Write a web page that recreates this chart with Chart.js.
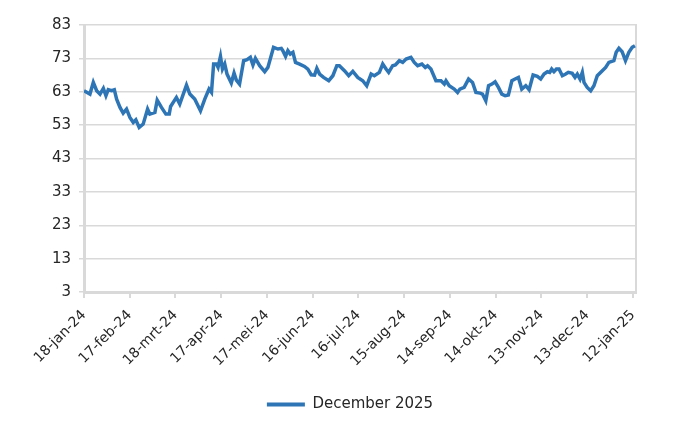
<!DOCTYPE html>
<html>
<head>
<meta charset="utf-8">
<script src="https://cdn.jsdelivr.net/npm/chart.js@4/dist/chart.umd.min.js"></script>
<style>
  html, body { margin: 0; padding: 0; background: #fff; }
  #wrap { width: 700px; height: 430px; }
</style>
</head>
<body>
<div id="wrap"><canvas id="chart"></canvas></div>
<script>
// days since 18-jan-24
const days = [
  0, 3.9, 6.1, 8.3, 10.5, 12.7, 14.4, 15.9, 18.1, 19.9, 21.4, 23.6, 25.7, 27.9, 30.1, 32.3, 34, 36.2, 38.8,
  41.7, 43.2, 46.5, 48, 50.8, 53.7, 55.9, 56.8, 60.6, 62.8, 67.2, 69.4, 72.6, 76.4, 79.2, 82, 83.6, 85,
  86.8, 87.9, 89.5, 90.8, 92.3, 93.8, 96.6, 98.4, 99.9, 102, 104.7, 106.9, 109.1, 110.8, 112.4, 115.2,
  118.5, 120.6, 124.3, 127.2, 129.4, 130.4, 132.2, 133.7, 135.3, 137, 138.7, 141.4, 144.6, 146.8, 149,
  151.2, 152.7, 154.5, 157.1, 160.5, 163.2, 165.8, 167.5, 170.8, 173.6, 176.3, 179.5, 182.8, 185.4,
  188.3, 190.4, 193.7, 195.9, 198.1, 199.8, 202.4, 204.2, 206.8, 209, 211.2, 214.4, 216.6, 218.8, 221.6,
  223.8, 225.3, 227.5, 230.8, 234.1, 236.3, 237.4, 239.5, 242.8, 245, 246.5, 249.3, 252.2, 254.8, 257,
  259.8, 261.3, 263.5, 265.3, 267.5, 269.6, 271.8, 274, 276.2, 278.3, 280.6, 282.7, 284.9, 287.1, 289.7,
  291.9, 294.5, 297.3, 299.5, 301.7, 303.9, 305.4, 306.7, 308.2, 309.8, 311.5, 313.7, 315.9, 317.6,
  320.2, 322, 323.5, 325.3, 326.8, 327.9, 330, 332.3, 334.4, 336.6, 339.9, 342.1, 344.2, 347.5, 349,
  350.8, 352.9, 355.1, 357.3, 359.5, 361.3
];
const values = [
  63.3, 62.3, 65.8, 63.3, 62.3, 64, 61.8, 63.6, 63.3, 63.6, 60.8, 58.3, 56.6, 57.8, 55.3, 53.8, 54.6, 52.3, 53.3,
  57.8, 56.3, 56.8, 60.5, 58.3, 56.3, 56.3, 58.6, 61.3, 59.3, 65, 62.3, 60.8, 57.3, 60.8, 63.8, 62.8, 71.3,
  71.3, 70.3, 73.6, 69.8, 71.3, 68.3, 65.6, 68.6, 66.5, 65.3, 72.3, 72.6, 73.3, 71, 73, 70.8,
  69, 70.3, 76.3, 75.8, 76, 75.3, 73.6, 75.3, 74.3, 74.8, 71.8, 71.3, 70.6, 69.8, 68.1,
  68, 70, 68.3, 67.3, 66.3, 67.8, 70.8, 70.8, 69.3, 67.8, 69.1, 67.3, 66.3, 64.8,
  68.3, 67.8, 68.8, 71.3, 69.8, 68.8, 70.8, 71, 72.3, 71.8, 72.8, 73.3, 71.8, 70.8, 71.3,
  70.3, 70.8, 69.8, 66.3, 66.3, 65.3, 66.3, 64.8, 63.8, 62.8, 63.8, 64.3, 66.8, 65.8, 62.8,
  62.6, 62.3, 60.3, 64.8, 65.3, 66, 64.3, 62.3, 61.8, 62, 66.3, 66.8, 67.3, 63.8, 64.8,
  63.6, 68, 67.6, 66.8, 68.3, 69, 68.8, 69.8, 69, 69.8, 69.8, 67.8, 68.3, 68.8,
  68.5, 67.3, 68.3, 66.8, 68.8, 65.8, 64.3, 63.3, 64.8, 67.8, 69.3, 70.3, 71.8, 72.3, 74.8,
  76, 75, 72.3, 74.8, 76.3, 76.8
];
const tickDays = [0, 30, 60, 90, 120, 150, 180, 210, 240, 270, 300, 330, 360];
const tickLabels = [
  "18-jan-24", "17-feb-24", "18-mrt-24", "17-apr-24", "17-mei-24", "16-jun-24", "16-jul-24",
  "15-aug-24", "14-sep-24", "14-okt-24", "13-nov-24", "13-dec-24", "12-jan-25"
];
const seriesName = "December 2025";

const blue = "#2e75b6";
const gridGrey = "#d9d9d9";
const textColor = "#262626";
const font = { family: "'DejaVu Sans', sans-serif", size: 15 };
const smallFont = { family: "'DejaVu Sans', sans-serif", size: 14 };

const ctx = document.getElementById("chart");
new Chart(ctx, {
  type: "line",
  data: {
    datasets: [
      {
        label: seriesName,
        data: days.map((d, i) => ({ x: d, y: values[i] })),
        borderColor: blue,
        backgroundColor: blue,
        borderWidth: 3.5,
        pointRadius: 0,
        tension: 0,
        yAxisID: "y",
      },
    ],
  },
  options: {
    responsive: true,
    maintainAspectRatio: false,
    animation: false,
    layout: { padding: { left: 0, right: 0, top: 25, bottom: 8 } },
    plugins: {
      tooltip: { enabled: false },
      legend: {
        position: "bottom",
        labels: {
          font: font,
          color: textColor,
          boxWidth: 38,
          boxHeight: 4,
          padding: 10,
          generateLabels: (chart) =>
            chart.data.datasets.map((ds, i) => ({
              text: ds.label,
              fillStyle: ds.borderColor,
              strokeStyle: ds.borderColor,
              lineWidth: 0,
              fontColor: textColor,
              datasetIndex: i,
            })),
        },
      },
    },
    scales: {
      x: {
        type: "linear",
        min: 0,
        max: 362,
        afterBuildTicks: (scale) => {
          scale.ticks = tickDays.map((v) => ({ value: v }));
        },
        afterFit: (scale) => {
          scale.height = 95;
        },
        ticks: {
          autoSkip: false,
          maxRotation: 45,
          minRotation: 45,
          font: smallFont,
          color: textColor,
          padding: 9,
          callback: (v) => tickLabels[tickDays.indexOf(v)],
        },
        grid: {
          drawOnChartArea: false,
          drawTicks: true,
          tickLength: 6,
          color: gridGrey,
          lineWidth: 2,
        },
        border: { color: gridGrey, width: 3 },
      },
      y: {
        min: 3,
        max: 83,
        afterFit: (scale) => {
          scale.width = 84;
        },
        ticks: {
          stepSize: 10,
          font: font,
          color: textColor,
          padding: 8,
        },
        grid: {
          color: gridGrey,
          lineWidth: 1.5,
          tickLength: 5,
        },
        border: { color: gridGrey, width: 3 },
      },
      yRight: {
        position: "right",
        min: 3,
        max: 83,
        afterFit: (scale) => {
          scale.width = 64;
        },
        ticks: { display: false },
        grid: { drawOnChartArea: false, drawTicks: false },
        border: { color: gridGrey, width: 2 },
      },
    },
  },
});
</script>
</body>
</html>
